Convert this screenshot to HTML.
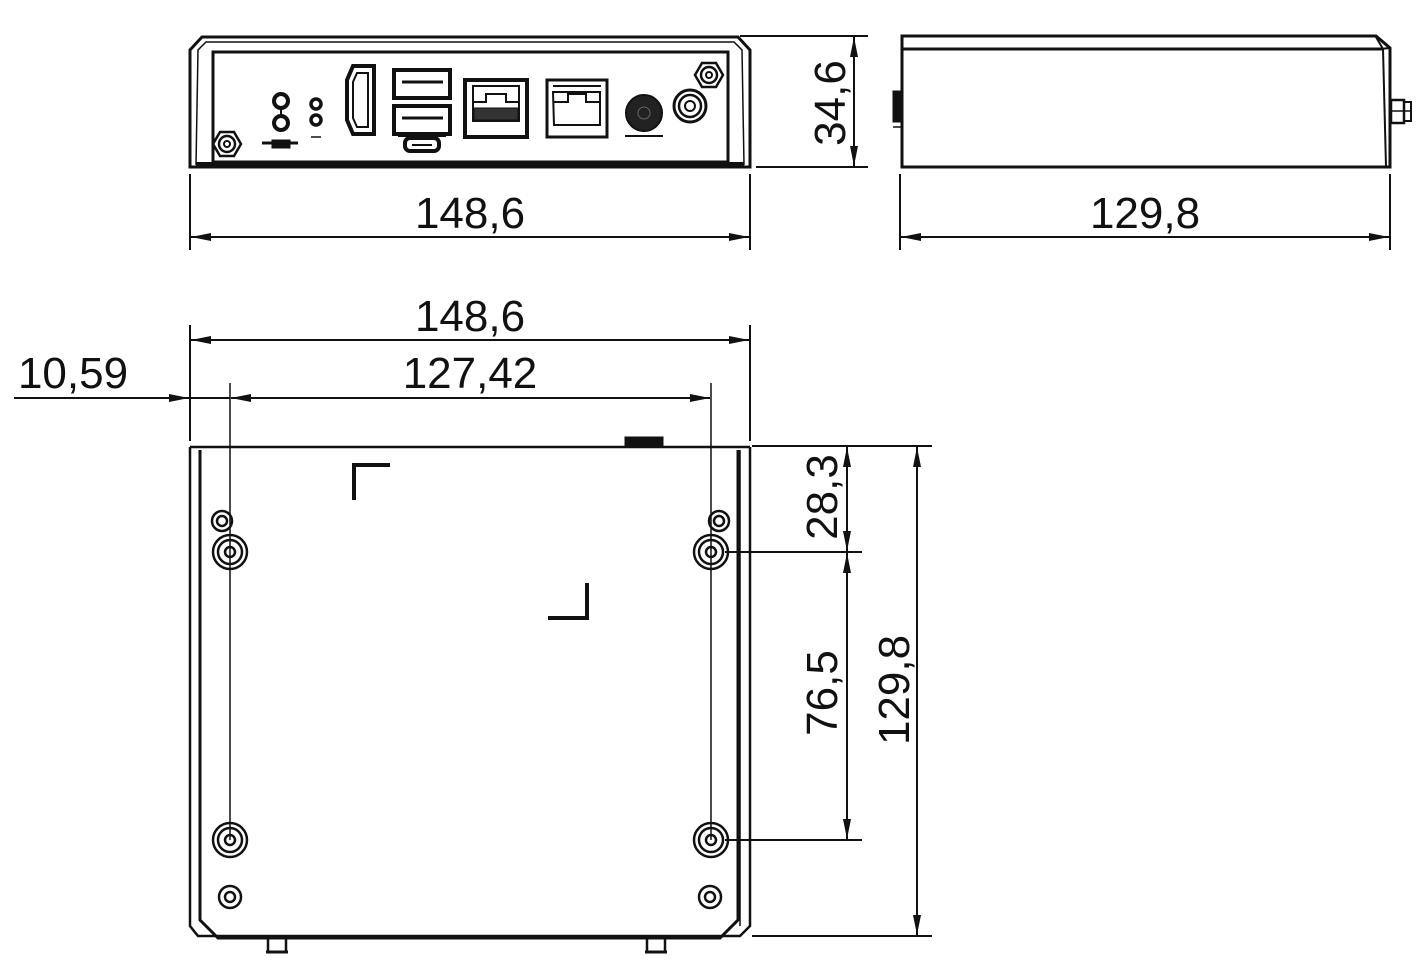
<!DOCTYPE html>
<html><head><meta charset="utf-8"><style>
html,body{margin:0;padding:0;background:#fff;}
svg{display:block;}
text{font-family:"Liberation Sans",sans-serif;font-size:44px;fill:#111;}
</style></head><body>
<svg width="1427" height="978" viewBox="0 0 1427 978" xmlns="http://www.w3.org/2000/svg">
<defs>
<marker id="a" viewBox="0 0 20 8" refX="20" refY="4" markerWidth="20" markerHeight="8" markerUnits="userSpaceOnUse" orient="auto-start-reverse"><path d="M0,0 L20,4 L0,8 z" fill="#111"/></marker>
</defs>
<g stroke="#111" fill="none">
<!-- FRONT VIEW -->
<path d="M190,167 L190,50 L202,37 L738,37 L750,50 L750,167 Z" stroke-width="3"/>
<path d="M196,165 L198,50 L206,42 L734,42 L742,50 L744,165" stroke-width="1.5"/>
<rect x="213" y="52" width="515" height="110" stroke-width="3"/>
<line x1="196" y1="164" x2="744" y2="164" stroke-width="4"/>
<!-- hex nuts -->
<polygon points="241,144 234,156 220,156 213,144 220,132 234,132" stroke-width="2.5"/>
<circle cx="227" cy="144" r="8" stroke-width="2.5"/><circle cx="227" cy="144" r="3" stroke-width="2"/>
<polygon points="723,75 716,87 702,87 695,75 702,63 716,63" stroke-width="2.5"/>
<circle cx="709" cy="75" r="8" stroke-width="2.5"/><circle cx="709" cy="75" r="3" stroke-width="2"/>
<!-- leds -->
<circle cx="281" cy="101" r="7" stroke-width="4"/><circle cx="281" cy="123" r="7" stroke-width="4"/>
<line x1="281" y1="108" x2="281" y2="116" stroke-width="2"/>
<circle cx="316" cy="104" r="5" stroke-width="3.5"/><circle cx="316" cy="120" r="5" stroke-width="3.5"/>
<line x1="262" y1="143" x2="298" y2="143" stroke-width="3"/>
<rect x="272" y="140" width="18" height="8" fill="#111" stroke-width="1"/>
<line x1="311" y1="137" x2="321" y2="137" stroke-width="1.5"/>
<!-- HDMI -->
<path d="M353,66 L374,66 L374,134 L353,134 L347,120 L347,80 Z" stroke-width="4"/>
<path d="M357,73 L368,73 L368,127 L357,127 L353,118 L353,82 Z" stroke-width="2"/>
<!-- USB -->
<rect x="394" y="70" width="56" height="28" stroke-width="4"/>
<line x1="402" y1="82" x2="443" y2="82" stroke-width="3"/>
<rect x="394" y="106" width="56" height="28" stroke-width="4"/>
<line x1="402" y1="118" x2="443" y2="118" stroke-width="3"/>
<line x1="398" y1="136" x2="446" y2="136" stroke-width="2"/>
<rect x="405" y="138" width="34" height="13" rx="5" stroke-width="4"/>
<line x1="412" y1="145" x2="432" y2="145" stroke-width="2"/>
<!-- RJ45 1 -->
<rect x="465" y="80" width="62" height="57" stroke-width="4"/>
<path d="M473,86 L519,86 L519,121 L473,121 Z M473,102 L486,102 L486,94 L506,94 L506,102 L519,102" stroke-width="2"/>
<rect x="474" y="108" width="44" height="12" fill="#333" stroke-width="1"/>
<!-- RJ45 2 -->
<rect x="547" y="80" width="60" height="57" stroke-width="3"/>
<path d="M553,86 L601,86 M553,92 L600,92 L600,125 L554,125 Z M554,102 L568,102 L568,93 M586,93 L586,102 L600,102 M568,94 L586,94" stroke-width="2"/>
<!-- DC jack -->
<circle cx="644" cy="113" r="18" fill="#222" stroke-width="2"/>
<circle cx="644" cy="113" r="6" stroke="#666" stroke-width="1"/>
<line x1="625" y1="136" x2="663" y2="136" stroke-width="2"/>
<!-- audio -->
<circle cx="690" cy="106" r="16" stroke-width="3"/>
<circle cx="690" cy="106" r="11" stroke-width="2.5"/>
<circle cx="690" cy="106" r="5" stroke-width="2"/>

<!-- front dimensions -->
<line x1="190" y1="174" x2="190" y2="250" stroke-width="2"/>
<line x1="750" y1="174" x2="750" y2="250" stroke-width="2"/>
<line x1="191" y1="237" x2="749" y2="237" stroke-width="2" marker-start="url(#a)" marker-end="url(#a)"/>
<line x1="740" y1="36" x2="868" y2="36" stroke-width="2"/>
<line x1="756" y1="167" x2="868" y2="167" stroke-width="2"/>
<line x1="854" y1="37" x2="854" y2="166" stroke-width="2" marker-start="url(#a)" marker-end="url(#a)"/>

<!-- SIDE VIEW -->
<path d="M902,167 L902,36 L1376,36 L1390,48 L1390,167 Z" stroke-width="3"/>
<line x1="902" y1="49" x2="1382" y2="49" stroke-width="3"/>
<path d="M1376,37 L1383,49 L1386,167" stroke-width="2"/>
<line x1="1380" y1="49" x2="1390" y2="48" stroke-width="2"/>
<rect x="893" y="91" width="7" height="31" fill="#111" stroke-width="1"/>
<line x1="893" y1="127" x2="901" y2="127" stroke-width="1.5"/>
<rect x="1391" y="100" width="13" height="23" stroke-width="2.5"/>
<rect x="1404" y="102" width="7" height="19" stroke-width="2"/>
<line x1="1392" y1="111" x2="1411" y2="111" stroke-width="1.5"/>
<line x1="900" y1="174" x2="900" y2="250" stroke-width="2"/>
<line x1="1390" y1="174" x2="1390" y2="250" stroke-width="2"/>
<line x1="901" y1="237" x2="1389" y2="237" stroke-width="2" marker-start="url(#a)" marker-end="url(#a)"/>

<!-- BOTTOM VIEW -->
<path d="M190,447 L190,926 L198,936 L740,936 L750,926 L750,447" stroke-width="2.5"/>
<line x1="190" y1="447" x2="750" y2="447" stroke-width="2.5"/>
<path d="M200,450 L200,920 L218,938 L720,938 L738,920 L738,450" stroke-width="3"/>
<path d="M740,450 L740,926" stroke-width="1.5"/>
<rect x="625" y="437" width="38" height="10" fill="#111" stroke-width="1"/>
<path d="M354,500 L354,465 L390,465" stroke-width="4"/>
<path d="M548,618 L587,618 L587,583" stroke-width="4"/>
<!-- holes -->
<g stroke-width="2.5">
<circle cx="230" cy="552" r="17"/><circle cx="230" cy="552" r="12"/><circle cx="230" cy="552" r="5"/>
<circle cx="230" cy="840" r="17"/><circle cx="230" cy="840" r="12"/><circle cx="230" cy="840" r="5"/>
<circle cx="711" cy="552" r="17"/><circle cx="711" cy="552" r="12"/><circle cx="711" cy="552" r="5"/>
<circle cx="711" cy="840" r="17"/><circle cx="711" cy="840" r="12"/><circle cx="711" cy="840" r="5"/>
<circle cx="222" cy="521" r="10"/><circle cx="222" cy="521" r="5"/>
<circle cx="719" cy="521" r="10"/><circle cx="719" cy="521" r="5"/>
<circle cx="230" cy="897" r="11"/><circle cx="230" cy="897" r="5"/>
<circle cx="710" cy="897" r="11"/><circle cx="710" cy="897" r="5"/>
</g>
<!-- bottom antenna stubs -->
<rect x="268" y="938" width="18" height="14" stroke-width="2.5"/>
<line x1="266" y1="952" x2="288" y2="952" stroke-width="3"/>
<rect x="647" y="938" width="18" height="14" stroke-width="2.5"/>
<line x1="645" y1="952" x2="667" y2="952" stroke-width="3"/>
<!-- bottom dims -->
<line x1="190" y1="325" x2="190" y2="441" stroke-width="2"/>
<line x1="750" y1="325" x2="750" y2="441" stroke-width="2"/>
<line x1="191" y1="340" x2="749" y2="340" stroke-width="2" marker-start="url(#a)" marker-end="url(#a)"/>
<line x1="230" y1="383" x2="230" y2="840" stroke-width="1.5"/>
<line x1="711" y1="383" x2="711" y2="840" stroke-width="1.5"/>
<line x1="231" y1="398" x2="710" y2="398" stroke-width="2" marker-start="url(#a)" marker-end="url(#a)"/>
<line x1="14" y1="398" x2="189" y2="398" stroke-width="2" marker-end="url(#a)"/>
<line x1="190" y1="398" x2="230" y2="398" stroke-width="2"/>
<line x1="752" y1="446" x2="932" y2="446" stroke-width="2"/>
<line x1="725" y1="552" x2="862" y2="552" stroke-width="2"/>
<line x1="725" y1="840" x2="862" y2="840" stroke-width="2"/>
<line x1="752" y1="936" x2="932" y2="936" stroke-width="2"/>
<line x1="847" y1="447" x2="847" y2="551" stroke-width="2" marker-start="url(#a)" marker-end="url(#a)"/>
<line x1="847" y1="553" x2="847" y2="839" stroke-width="2" marker-start="url(#a)" marker-end="url(#a)"/>
<line x1="917" y1="447" x2="917" y2="935" stroke-width="2" marker-start="url(#a)" marker-end="url(#a)"/>
</g>
<!-- text -->
<g text-anchor="middle">
<text x="470" y="228">148,6</text>
<text x="1145" y="228">129,8</text>
<text x="470" y="331">148,6</text>
<text x="470" y="388">127,42</text>
<text x="73" y="388">10,59</text>
<text transform="translate(845,103) rotate(-90)">34,6</text>
<text transform="translate(837,497) rotate(-90)">28,3</text>
<text transform="translate(837,693) rotate(-90)">76,5</text>
<text transform="translate(909,690) rotate(-90)">129,8</text>
</g>
</svg>
</body></html>
